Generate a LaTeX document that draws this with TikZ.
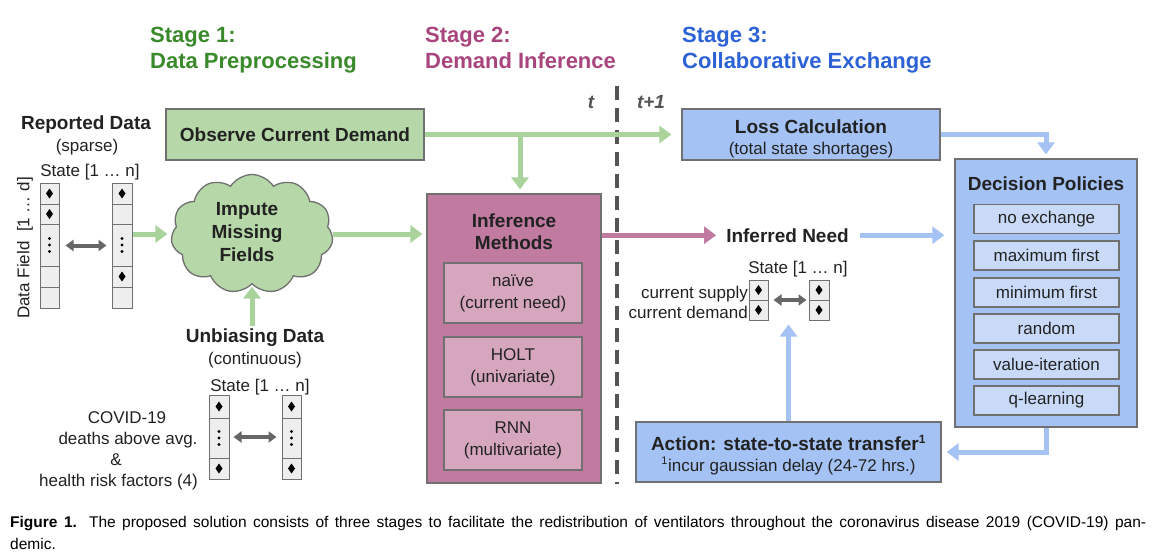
\documentclass[tikz,border=0pt]{standalone}
\usepackage{fontspec}
\setmainfont{Liberation Sans}
\usetikzlibrary{shapes.geometric,shapes.symbols,arrows.meta,calc}
\definecolor{txt}{HTML}{222222}
\definecolor{bd}{HTML}{707070}
\definecolor{grfill}{HTML}{B6D7A8}
\definecolor{grarr}{HTML}{A9D39B}
\definecolor{magfill}{HTML}{C27BA0}
\definecolor{maginner}{HTML}{D5A6BD}
\definecolor{blfill}{HTML}{A4C2F4}
\definecolor{blinner}{HTML}{C9DAF8}
\definecolor{stA}{HTML}{3A8A2C}
\definecolor{stB}{HTML}{A8457D}
\definecolor{stC}{HTML}{2D62D6}
\definecolor{dashcol}{HTML}{555555}
\definecolor{cellfill}{HTML}{EEEEEE}
\definecolor{dblc}{HTML}{666666}
\newcommand{\dmd}[2]{\fill[black] (#1,#2-5) -- (#1+3.5,#2) -- (#1,#2+5) -- (#1-3.5,#2) -- cycle;}
\newcommand{\vdts}[2]{\fill[black] (#1,#2-6.5) circle (1.6); \fill[black] (#1,#2) circle (1.6); \fill[black] (#1,#2+6.5) circle (1.6);}
\begin{document}
\begin{tikzpicture}[x=1pt,y=-1pt,
  every node/.style={text=txt},
  bigbold/.style={font=\fontsize{19}{22}\selectfont\bfseries, inner sep=2pt},
  reg/.style={font=\fontsize{17}{22}\selectfont, inner sep=2pt},
  stagetxt/.style={font=\fontsize{22}{26}\selectfont\bfseries, anchor=base west, inner sep=0},
  box/.style={draw=bd, line width=1.3pt, inner sep=0},
  ibox/.style={draw=bd, line width=1.3pt, inner sep=0, align=center, font=\fontsize{17}{22}\selectfont},
  arrfr/.style={draw=bd, fill=cellfill, line width=1pt, inner sep=0},
  cellln/.style={draw=bd, line width=1pt},
  garrow/.style={draw=grarr, line width=5pt, -{Triangle[length=12pt,width=17pt]}},
  marrow/.style={draw=magfill, line width=5pt, -{Triangle[length=12pt,width=17pt]}},
  barrow/.style={draw=blfill, line width=5pt, -{Triangle[length=12pt,width=17pt]}},
  dbl/.style={draw=dblc, line width=4pt, {Triangle[length=8pt,width=11pt]}-{Triangle[length=8pt,width=11pt]}},
  dashline/.style={draw=dashcol, line width=4pt, dash pattern=on 14pt off 8pt}
]
\useasboundingbox[fill=white] (0,0) rectangle (1156,559);

% stage titles
\node[stagetxt, text=stA] (s1a) at (150,43) {Stage 1:};
\node[stagetxt, text=stA] (s1b) at (150,69) {Data Preprocessing};
\node[stagetxt, text=stB] (s2a) at (425,43) {Stage 2:};
\node[stagetxt, text=stB] (s2b) at (425,69) {Demand Inference};
\node[stagetxt, text=stC] (s3a) at (682,43) {Stage 3:};
\node[stagetxt, text=stC] (s3b) at (682,69) {Collaborative Exchange};

% time divider
\coordinate (dtop) at (617,86);
\coordinate (dbot) at (617,484);
\draw[dashline] (dtop) -- (dbot);
\node[anchor=base, font=\fontsize{19}{22}\selectfont\bfseries\itshape, text=dashcol] (tl) at (591,109) {t};
\node[anchor=base, font=\fontsize{19}{22}\selectfont\bfseries\itshape, text=dashcol] (tr) at (651,109) {t+1};

% Stage 1 -----------------------------------------------------
\node[bigbold, anchor=base] (rep) at (86,129) {Reported Data};
\node[reg, anchor=base] (sparse) at (87,151) {(sparse)};
\node[reg, anchor=base] (stA) at (90,176) {State [1 … n]};
\node[reg, rotate=90] (dfield) at (25,248) {Data Field\ \ [1 … d]};

\node[arrfr, minimum width=19pt, minimum height=125pt] (arrA) at (49.5,245.5) {};
\draw[cellln] (40,204) -- (59,204) (40,224) -- (59,224) (40,266) -- (59,266) (40,287) -- (59,287);
\dmd{49.5}{193.5} \dmd{49.5}{214} \vdts{49.5}{245}
\node[arrfr, minimum width=20pt, minimum height=125pt] (arrB) at (122,245.5) {};
\draw[cellln] (112,204) -- (132,204) (112,224) -- (132,224) (112,266) -- (132,266) (112,287) -- (132,287);
\dmd{122}{193.5} \vdts{122}{245} \dmd{122}{276.5}
\draw[dbl, shorten <=6pt, shorten >=5pt] (arrA) -- (arrB);

\node[box, draw=bd, fill=grfill, minimum width=258pt, minimum height=51pt, font=\fontsize{19}{22}\selectfont\bfseries] (obs) at (295,134.5) {Observe Current Demand};

\node[cloud, cloud puffs=11, cloud puff arc=115, aspect=1.36, draw=bd, line width=1.3pt, fill=grfill, minimum width=162pt, minimum height=119pt, inner sep=0] (cloud) at (252,234) {};
\node[bigbold, align=center, font=\fontsize{19}{23}\selectfont\bfseries] (impt) at (247,232) {Impute\\Missing\\Fields};

\node[bigbold, anchor=base] (unb) at (255,342) {Unbiasing Data};
\node[reg, anchor=base] (cont) at (255,364) {(continuous)};
\node[reg, anchor=base] (stB) at (260,391) {State [1 … n]};

\node[arrfr, minimum width=20pt, minimum height=84pt] (arrC) at (219,437) {};
\draw[cellln] (209,418) -- (229,418) (209,458) -- (229,458);
\dmd{219}{406.5} \vdts{219}{438} \dmd{219}{468.5}
\node[arrfr, minimum width=19pt, minimum height=84pt] (arrD) at (291.5,437) {};
\draw[cellln] (282,418) -- (301,418) (282,458) -- (301,458);
\dmd{291.5}{406.5} \vdts{291.5}{438} \dmd{291.5}{468.5}
\draw[dbl, shorten <=4pt, shorten >=5pt] (arrC) -- (arrD);

\node[reg, anchor=base] (cv1) at (127,423) {COVID-19};
\node[reg, anchor=base] (cv2) at (128,444) {deaths above avg.};
\node[reg, anchor=base] (cv3) at (116,465) {\&};
\node[reg, anchor=base] (cv4) at (118.5,486) {health risk factors (4)};

% Stage 2 -----------------------------------------------------
\node[box, fill=magfill, minimum width=174pt, minimum height=289pt] (inf) at (514,338.5) {};
\node[bigbold, anchor=base] (inft1) at (514,227) {Inference};
\node[bigbold, anchor=base] (inft2) at (514,249) {Methods};
\node[ibox, fill=maginner, minimum width=138pt, minimum height=60pt] (m1) at (513,293) {naïve\\(current need)};
\node[ibox, fill=maginner, minimum width=138pt, minimum height=60pt] (m2) at (513,367) {HOLT\\(univariate)};
\node[ibox, fill=maginner, minimum width=138pt, minimum height=60pt] (m3) at (513,440) {RNN\\(multivariate)};

% Stage 3 -----------------------------------------------------
\node[box, fill=blfill, minimum width=258pt, minimum height=51pt] (loss) at (811,134.5) {};
\node[bigbold, anchor=base] (losst1) at (811,133) {Loss Calculation};
\node[reg, anchor=base] (losst2) at (811,154) {(total state shortages)};

\node[box, fill=blfill, minimum width=182pt, minimum height=268pt] (dec) at (1046,293) {};
\node[bigbold, anchor=base] (dect) at (1046,190) {Decision Policies};
\node[ibox, fill=blinner, minimum width=145pt, minimum height=29pt] (p1) at (1046.5,219) {no exchange};
\node[ibox, fill=blinner, minimum width=145pt, minimum height=29pt] (p2) at (1046.5,255.5) {maximum first};
\node[ibox, fill=blinner, minimum width=145pt, minimum height=29pt] (p3) at (1046.5,292.5) {minimum first};
\node[ibox, fill=blinner, minimum width=145pt, minimum height=29pt] (p4) at (1046.5,328.5) {random};
\node[ibox, fill=blinner, minimum width=145pt, minimum height=29pt] (p5) at (1046.5,364.5) {value-iteration};
\node[ibox, fill=blinner, minimum width=145pt, minimum height=29pt] (p6) at (1046.5,400.5) {q-learning};

\node[bigbold, anchor=base] (need) at (787.5,242) {Inferred Need};
\node[reg, anchor=base] (stC) at (798,273) {State [1 … n]};
\node[reg, anchor=base east, inner sep=0] (cs) at (748,298) {current supply};
\node[reg, anchor=base east, inner sep=0] (cd) at (748,318) {current demand};
\node[arrfr, minimum width=19pt, minimum height=40pt] (arrE) at (758.5,300) {};
\draw[cellln] (749,300) -- (768,300);
\dmd{758.5}{290} \dmd{758.5}{310}
\node[arrfr, minimum width=20pt, minimum height=40pt] (arrF) at (819,300) {};
\draw[cellln] (809,300) -- (829,300);
\dmd{819}{290} \dmd{819}{310}
\draw[dbl, shorten <=5pt, shorten >=2pt] (arrE) -- (arrF);

\node[box, fill=blfill, minimum width=305pt, minimum height=60pt] (act) at (788.5,452) {};
\node[bigbold, anchor=base] (actt1) at (788.5,450) {Action: state-to-state transfer\textsuperscript{\fontsize{12}{12}\selectfont 1}};
\node[reg, anchor=base] (actt2) at (788.5,471) {\textsuperscript{\fontsize{11}{11}\selectfont 1}incur gaussian delay (24-72 hrs.)};

% connectors --------------------------------------------------
\draw[garrow, shorten >=4pt] (arrB.east |- cloud.west) -- (cloud.west);
\draw[garrow, shorten >=4pt] (cloud.east) -- (inf.west |- cloud.east);
\draw[garrow, shorten >=2pt] (cloud.south |- unb.north) -- (cloud.south);
\draw[garrow, shorten >=10pt] (obs.east) -- (loss.west);
\coordinate (jn) at (520,134.5);
\draw[garrow, shorten >=4pt] (jn) -- (jn |- inf.north);
\draw[marrow, shorten >=8pt] (inf.east |- need.west) -- (need.west);
\draw[barrow, shorten <=9pt, shorten >=10pt] (need.east) -- (dec.west |- need.east);
\draw[barrow, shorten >=4pt] (loss.east) -| (dec.north);
\draw[barrow, shorten >=5pt] (dec.south) |- (act.east);
\draw[barrow, shorten >=4pt] (act.north) -- (act.north |- arrE.south);

% caption ------------------------------------------------------
\node[anchor=base west, inner sep=0, font=\fontsize{15.5}{18}\selectfont, text=black] (cap1) at (10,527) {\hbox to 1136pt{\textbf{Figure 1.} The proposed solution consists of three stages to facilitate the redistribution of ventilators throughout the coronavirus disease 2019 (COVID-19) pan-}};
\node[anchor=base west, inner sep=0, font=\fontsize{15.5}{18}\selectfont, text=black] (cap2) at (10,549) {demic.};
\end{tikzpicture}
\end{document}
